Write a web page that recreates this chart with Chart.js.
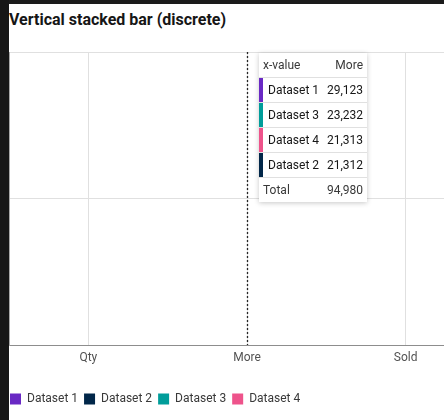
<!DOCTYPE html>
<html>
<head>
<meta charset="utf-8">
<script src="https://cdn.jsdelivr.net/npm/chart.js@4"></script>
<style>
  html, body { margin: 0; padding: 0; width: 444px; height: 420px; overflow: hidden; background: #fff; }
  body { position: relative; font-family: Roboto, sans-serif; }
  .frame-left { position: absolute; left: 0; top: 0; width: 9px; height: 420px; background: #161616; z-index: 5; }
  .frame-top { position: absolute; left: 0; top: 0; width: 444px; height: 4px; background: #1b1b1b; z-index: 5; }
  .title { position: absolute; left: 9px; top: 10px; font-size: 16px; font-weight: 700; color: #161616; white-space: nowrap; }
  #wrap { position: absolute; left: 4px; top: 50px; }
  .tip { position: absolute; width: 108px; background: #fff; box-shadow: 0 1px 5px rgba(0,0,0,0.22); font-size: 12px; color: #161616; z-index: 4; }
  .tip .row { display: flex; justify-content: space-between; align-items: center; height: 25px; border-top: 1px solid #e0e0e0; box-sizing: border-box; position: relative; padding: 0 4px 0 9px; }
  .tip .row.head { border-top: none; height: 24px; padding-left: 4px; color: #393939; }
  .tip .row.total { padding-left: 4px; color: #393939; }
  .tip .strip { position: absolute; left: 0; top: 0; bottom: 0; width: 4px; }
</style>
</head>
<body>
<div class="frame-top"></div>
<div class="frame-left"></div>
<div class="title">Vertical stacked bar (discrete)</div>
<div id="wrap"><canvas id="chart" width="481" height="365"></canvas></div>
<div class="tip" id="tip" style="display:none"></div>

<script>
const categories = ['Qty', 'More', 'Sold'];
const datasetNames = ['Dataset 1', 'Dataset 2', 'Dataset 3', 'Dataset 4'];
const dataset1 = [65000, 29123, 35213];
const dataset2 = [32432, 21312, 56456];
const dataset3 = [12312, 23232, 34232];
const dataset4 = [32423, 21313, 64353];
const yTicks = [0, 100000, 200000];

const colors = ['#6929c4', '#012749', '#009d9a', '#ee538b'];
const hoverIndex = 1; // 'More'

const series = [dataset1, dataset2, dataset3, dataset4];

// dotted ruler at hovered category
const rulerPlugin = {
  id: 'ruler',
  afterDatasetsDraw(chart) {
    const active = chart.tooltip.getActiveElements();
    if (!active.length) return;
    const x = Math.round(chart.scales.x.getPixelForValue(active[0].index)) + 0.5;
    const ctx = chart.ctx;
    ctx.save();
    ctx.strokeStyle = '#262626';
    ctx.lineWidth = 1.3;
    ctx.setLineDash([2, 2]);
    ctx.beginPath();
    ctx.moveTo(x, chart.chartArea.top);
    ctx.lineTo(x, chart.chartArea.bottom);
    ctx.stroke();
    ctx.restore();
  }
};

function externalTip(context) {
  const tip = document.getElementById('tip');
  const tooltip = context.tooltip;
  const chart = context.chart;
  if (!tooltip.dataPoints || !tooltip.dataPoints.length) { tip.style.display = 'none'; return; }
  const idx = tooltip.dataPoints[0].dataIndex;
  let html = '<div class="row head"><span>x-value</span><span>' + categories[idx] + '</span></div>';
  let total = 0;
  tooltip.dataPoints.forEach(p => {
    total += p.raw;
    html += '<div class="row"><span class="strip" style="background:' + p.dataset.backgroundColor + '"></span>' +
      '<span>' + p.dataset.label + '</span><span>' + p.raw.toLocaleString('en-US') + '</span></div>';
  });
  html += '<div class="row total"><span>Total</span><span>' + total.toLocaleString('en-US') + '</span></div>';
  tip.innerHTML = html;
  const wrap = document.getElementById('wrap');
  tip.style.left = (wrap.offsetLeft + chart.scales.x.getPixelForValue(idx) + 12) + 'px';
  tip.style.top = (wrap.offsetTop + chart.chartArea.top + 1) + 'px';
  tip.style.display = 'block';
}

const chart = new Chart(document.getElementById('chart'), {
  type: 'bar',
  data: {
    labels: categories,
    datasets: datasetNames.map((name, i) => ({
      label: name,
      data: series[i],
      backgroundColor: colors[i],
      borderWidth: 0
    }))
  },
  options: {
    responsive: false,
    // bars are caught at the very start of their grow-in animation, as in the reference
    animation: { duration: 1e9, easing: 'linear' },
    layout: { padding: { top: 2, right: 0, bottom: 0, left: 0 } },
    scales: {
      x: {
        stacked: true,
        grid: { color: '#e0e0e0', offset: false, drawTicks: false },
        border: { color: '#8d8d8d', width: 1 },
        ticks: { color: '#525252', padding: 6, font: { family: 'Roboto', size: 12 } },
        afterFit(scale) { scale.height += 15.6; }
      },
      y: {
        stacked: true,
        min: yTicks[0],
        max: yTicks[yTicks.length - 1],
        afterBuildTicks(scale) { scale.ticks = yTicks.map(v => ({ value: v })); },
        grid: { color: '#e0e0e0', drawTicks: false },
        border: { color: '#a8a8a8', width: 1 },
        ticks: { display: false },
        afterFit(scale) { scale.width = 5; }
      }
    },
    plugins: {
      legend: {
        position: 'bottom',
        align: 'start',
        labels: {
          boxWidth: 11,
          boxHeight: 11,
          padding: 6,
          color: '#393939',
          font: { family: 'Roboto', size: 12 }
        }
      },
      tooltip: {
        enabled: false,
        mode: 'index',
        itemSort: (a, b) => b.raw - a.raw,
        external: externalTip
      }
    }
  },
  plugins: [rulerPlugin]
});

chart.tooltip.setActiveElements(
  datasetNames.map((_, i) => ({ datasetIndex: i, index: hoverIndex })),
  { x: chart.scales.x.getPixelForValue(hoverIndex), y: chart.chartArea.top }
);
chart.draw();
</script>
</body>
</html>
